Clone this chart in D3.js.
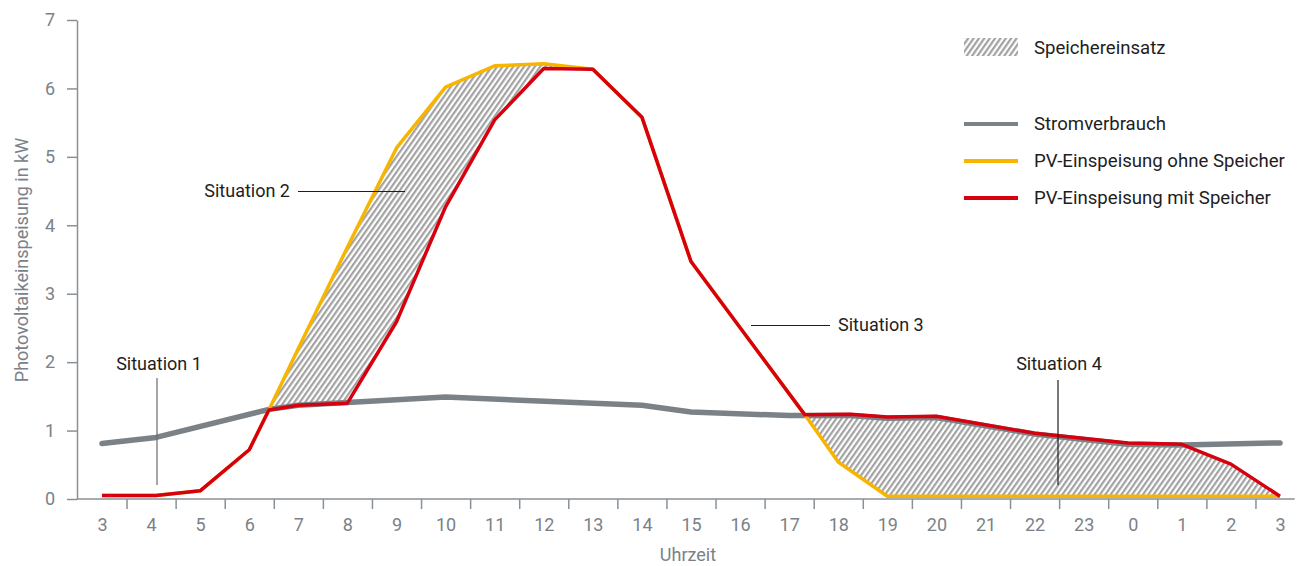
<!DOCTYPE html>
<html>
<head>
<meta charset="utf-8">
<script src="https://cdn.jsdelivr.net/npm/d3@7"></script>
<style>
  html, body { margin: 0; padding: 0; background: #fff; }
  svg { display: block; font-family: Roboto, "Liberation Sans", sans-serif; }
</style>
</head>
<body>
<svg id="chart" width="1300" height="566"></svg>
<script>
// ---------- data ----------
const hourLabels = ["3","4","5","6","7","8","9","10","11","12","13","14","15","16","17","18","19","20","21","22","23","0","1","2","3"];
const yTicks = [0,1,2,3,4,5,6,7];

// [hour index, kW]
const stromverbrauch = [[0,0.81],[1.1,0.90],[3.4,1.31],[4,1.37],[5,1.41],[7,1.49],[11,1.37],[12,1.27],[14,1.22],[14.32,1.22],[15.25,1.22],[16,1.18],[17,1.19],[19,0.95],[20.9,0.80],[22,0.79],[24,0.82]];
const pvOhne = [[0,0.05],[1.1,0.05],[2,0.12],[3,0.72],[3.4,1.30],[4,2.2],[5,3.68],[6,5.13],[7,6.02],[8,6.33],[9,6.36],[10,6.28],[11,5.58],[12,3.47],[14.32,1.23],[15,0.54],[16,0.04],[24,0.04]];
const pvMit = [[0,0.05],[1.1,0.05],[2,0.12],[3,0.72],[3.4,1.30],[4,1.37],[5,1.40],[6,2.59],[7,4.27],[8,5.54],[9,6.29],[10,6.28],[11,5.58],[12,3.47],[14.32,1.23],[15.25,1.24],[16,1.20],[17,1.21],[19,0.96],[20.9,0.82],[22,0.80],[23,0.51],[24,0.04]];

const legendItems = ["Stromverbrauch","PV-Einspeisung ohne Speicher","PV-Einspeisung mit Speicher"];
const legendColors = ["#7a8288","#f8b500","#d7000f"];

// ---------- setup ----------
const svg = d3.select("#chart");
const x = d3.scaleLinear().domain([0, 24]).range([102, 1280]);
const y = d3.scaleLinear().domain([0, 7]).range([499, 20]);
const axisColor = "#8a9196";
const labelColor = "#7a8288";
const textColor = "#1e1e1e";
const axisFont = "18px";
const textFont = "18.6px";

// hatch pattern
const defs = svg.append("defs");
const pat = defs.append("pattern")
  .attr("id", "hatch")
  .attr("patternUnits", "userSpaceOnUse")
  .attr("width", 4.4).attr("height", 10)
  .attr("patternTransform", "rotate(35)");
pat.append("rect").attr("width", 4.4).attr("height", 10).attr("fill", "#fff");
pat.append("line").attr("x1", 1.1).attr("x2", 1.1).attr("y1", 0).attr("y2", 10)
  .attr("stroke", "#a2a2a2").attr("stroke-width", 2.2);

const line = d3.line().x(d => x(d[0])).y(d => y(d[1]));

// ---------- hatched areas ----------
function between(top, bottom, x0, x1) {
  const t = top.filter(d => d[0] >= x0 && d[0] <= x1);
  const b = bottom.filter(d => d[0] >= x0 && d[0] <= x1).slice().reverse();
  return t.concat(b);
}
svg.append("path").datum(between(pvOhne, pvMit, 3.4, 10))
  .attr("d", d => line(d) + "Z").attr("fill", "url(#hatch)");
svg.append("path").datum(between(pvMit, pvOhne, 14.32, 24))
  .attr("d", d => line(d) + "Z").attr("fill", "url(#hatch)");

// ---------- axes ----------
const yAxis = d3.axisLeft(y).tickValues(yTicks).tickFormat(d3.format("d"))
  .tickSize(10).tickSizeOuter(0).tickPadding(12);
const gy = svg.append("g").attr("transform", "translate(77,0)").call(yAxis);
gy.select(".domain").attr("stroke", axisColor).attr("stroke-width", 1.5);
gy.selectAll(".tick line").attr("stroke", axisColor).attr("stroke-width", 1.5);
gy.selectAll(".tick text").attr("fill", labelColor).style("font-size", axisFont).style("font-family", "Roboto, sans-serif");

// x axis: baseline
svg.append("line").attr("x1", 77).attr("x2", x(24.3)).attr("y1", 499).attr("y2", 499)
  .attr("stroke", axisColor).attr("stroke-width", 1.5);
const xTickAxis = d3.axisBottom(x).tickValues(d3.range(0, 24).map(i => i + 0.5))
  .tickSize(10).tickFormat("");
const gxt = svg.append("g").attr("transform", "translate(0,499)").call(xTickAxis);
gxt.select(".domain").remove();
gxt.selectAll(".tick line").attr("stroke", axisColor).attr("stroke-width", 1.5);

const xLabelAxis = d3.axisBottom(x).tickValues(d3.range(0, 25)).tickSize(0).tickPadding(19)
  .tickFormat(i => hourLabels[i]);
const gxl = svg.append("g").attr("transform", "translate(0,499)").call(xLabelAxis);
gxl.select(".domain").remove();
gxl.selectAll(".tick text").attr("fill", labelColor).style("font-size", axisFont).style("font-family", "Roboto, sans-serif");

svg.append("text").attr("x", 688).attr("y", 561).attr("text-anchor", "middle")
  .attr("fill", labelColor).style("font-size", axisFont).text("Uhrzeit");
svg.append("text").attr("transform", "translate(28,260) rotate(-90)").attr("text-anchor", "middle")
  .attr("fill", labelColor).style("font-size", axisFont).text("Photovoltaikeinspeisung in kW");

// ---------- lines ----------
svg.append("path").datum(stromverbrauch).attr("d", line)
  .attr("fill", "none").attr("stroke", legendColors[0]).attr("stroke-width", 5.5)
  .attr("stroke-linecap", "round").attr("stroke-linejoin", "round");
svg.append("path").datum(pvOhne).attr("d", line)
  .attr("fill", "none").attr("stroke", legendColors[1]).attr("stroke-width", 3.5)
  .attr("stroke-linejoin", "round");
svg.append("path").datum(pvMit).attr("d", line)
  .attr("fill", "none").attr("stroke", legendColors[2]).attr("stroke-width", 3.5)
  .attr("stroke-linejoin", "round");

// ---------- annotations ----------
const annColor = "#1e1e1e";
function ann(txt, tx, ty, anchor, x1, y1, x2, y2, stroke) {
  svg.append("text").attr("x", tx).attr("y", ty).attr("text-anchor", anchor)
    .attr("fill", annColor).style("font-size", "18px").text(txt);
  svg.append("line").attr("x1", x1).attr("y1", y1).attr("x2", x2).attr("y2", y2)
    .attr("stroke", stroke).attr("stroke-width", 1.2);
}
ann("Situation 1", 159, 370, "middle", 157, 378, 157, 485, "#6b6b6b");
ann("Situation 2", 290, 197, "end", 298, 191.5, 405, 191.5, "#1e1e1e");
ann("Situation 3", 838, 331, "start", 751, 325.5, 830, 325.5, "#1e1e1e");
ann("Situation 4", 1059, 370, "middle", 1058, 380, 1058, 485, "#1e1e1e");

// ---------- legend ----------
const lg = svg.append("g");
lg.append("rect").attr("x", 964).attr("y", 38).attr("width", 54).attr("height", 18).attr("fill", "url(#hatch)");
lg.append("text").attr("x", 1034).attr("y", 54).attr("fill", textColor).style("font-size", textFont).text("Speichereinsatz");
legendItems.forEach((t, i) => {
  const ly = 124 + i * 37;
  lg.append("line").attr("x1", 964).attr("x2", 1018).attr("y1", ly).attr("y2", ly)
    .attr("stroke", legendColors[i]).attr("stroke-width", 4);
  lg.append("text").attr("x", 1034).attr("y", ly + 6).attr("fill", textColor)
    .style("font-size", textFont).text(t);
});
</script>
</body>
</html>
